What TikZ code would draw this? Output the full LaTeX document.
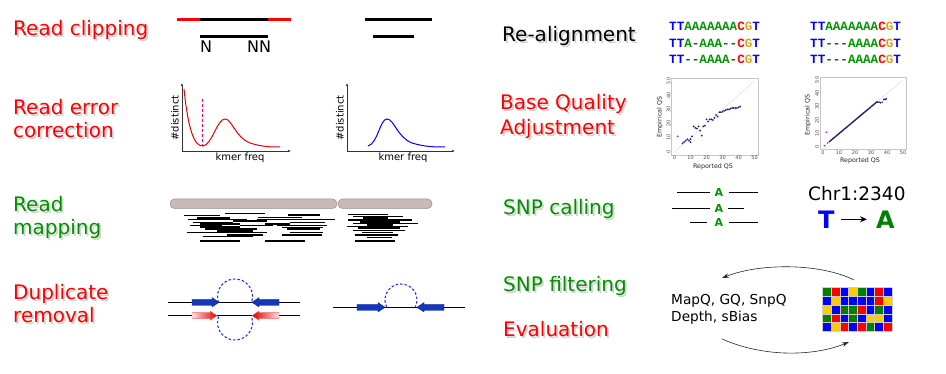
\documentclass[tikz,border=0pt]{standalone}
\usepackage{fontspec}
\setmainfont{DejaVu Sans}
\newfontfamily\monob{Liberation Mono}[BoldFont={Liberation Mono Bold}]
\usetikzlibrary{arrows.meta}
\definecolor{labred}{RGB}{255,0,0}
\definecolor{labgreen}{RGB}{0,145,0}
\definecolor{sb}{RGB}{0,0,255}
\definecolor{sg}{RGB}{0,150,0}
\definecolor{sr}{RGB}{255,0,0}
\definecolor{sy}{RGB}{218,165,32}
\definecolor{sd}{RGB}{40,90,40}
\definecolor{abl}{RGB}{20,55,185}
\definecolor{abld}{RGB}{10,30,140}
\definecolor{loopblue}{RGB}{30,50,235}
\definecolor{pill}{RGB}{200,186,183}
\definecolor{pilld}{RGB}{150,140,138}
\definecolor{dots}{RGB}{25,25,120}
\definecolor{gG}{RGB}{0,128,0}
\definecolor{gR}{RGB}{255,0,0}
\definecolor{gB}{RGB}{0,0,255}
\definecolor{gY}{RGB}{255,204,0}
\tikzset{
  lab/.style={anchor=base west, inner sep=0pt, font=\fontsize{20}{24}\selectfont},
  labsh/.style={lab, text=gray!35},
  seq/.style={anchor=base west, inner sep=0pt, font=\monob\bfseries\fontsize{12.6}{14}\selectfont},
  axl/.style={inner sep=0pt, font=\fontsize{10}{12}\selectfont},
  tick/.style={inner sep=0.6pt, font=\fontsize{5}{6}\selectfont, text=gray!60!black},
  plab/.style={inner sep=0pt, font=\fontsize{6.3}{7}\selectfont, text=gray!30!black},
  barrow/.style={fill=abl, draw=abld, line width=0.4pt},
  rarrowR/.style={left color=red!12, right color=red!85!black, draw=red!60, line width=0.4pt},
  rarrowL/.style={right color=red!12, left color=red!85!black, draw=red!60, line width=0.4pt},
  loopline/.style={draw=loopblue, dashed, dash pattern=on 2.5pt off 2pt, line width=1.1pt},
  kaxis/.style={line width=0.5pt, black!80, -{Latex[length=3pt,width=2.4pt]}},
  cell/.style={draw=gray!40, line width=0.4pt},
}
% label with drop shadow: name, colour, x, y, text
\newcommand{\shlab}[5]{%
  \node[labsh] (#1sh) at (#3+1.8,#4+1.8) {#5};
  \node[lab, text=#2] (#1) at (#3,#4) {#5};}
\begin{document}
\begin{tikzpicture}[x=1pt, y=-1pt]
\useasboundingbox[fill=white] (0,0) rectangle (946,374);

% ---------- left labels ----------
\shlab{l1}{labred}{13}{36}{Read clipping}
\shlab{l2a}{labred}{13}{115}{Read error}
\shlab{l2b}{labred}{13}{138}{correction}
\shlab{l3a}{labgreen}{13}{212}{Read}
\shlab{l3b}{labgreen}{13}{235}{mapping}
\shlab{l4a}{labred}{13}{300}{Duplicate}
\shlab{l4b}{labred}{13}{323}{removal}

% ---------- right labels ----------
\shlab{r1}{black}{502}{42}{Re-alignment}
\shlab{r2a}{labred}{500}{110}{Base Quality}
\shlab{r2b}{labred}{500}{135}{Adjustment}
\shlab{r3}{labgreen}{503}{215}{SNP calling}
\shlab{r4}{labgreen}{503}{292}{SNP filtering}
\shlab{r5}{labred}{503}{337}{Evaluation}

% ---------- read clipping ----------
\draw[line width=3pt, red] (177,20) -- (200,20);
\draw[line width=3pt, black] (200,20) -- (268,20);
\draw[line width=3pt, red] (268,20) -- (291,20);
\draw[line width=3pt, black] (200,37) -- (268,37);
\node[anchor=base west, inner sep=0pt, font=\fontsize{16}{18}\selectfont] (n1) at (200,52.3) {N};
\node[anchor=base west, inner sep=0pt, font=\fontsize{16}{18}\selectfont] (n2) at (247,52.3) {NN};
\draw[line width=3pt, black] (365,20) -- (432,20);
\draw[line width=3pt, black] (373,37) -- (414,37);

% ---------- kmer plots ----------
\coordinate (o1) at (182,151);
\draw[kaxis] (o1) -- (182,83);
\draw[kaxis] (o1) -- (291,151);
\draw[magenta, dashed, dash pattern=on 3pt off 2pt, line width=1pt] (202,99) -- (202,146);
\draw[red!90!black, line width=1pt] (184,89) .. controls (188,128) and (194,147) .. (203,146)
  .. controls (212,145) and (217,119) .. (225,119)
  .. controls (232,119) and (235,137) .. (250,143)
  .. controls (262,147) and (272,147) .. (280,147);
\node[axl, rotate=90] (yl1) at (175,118) {\#distinct};
\node[axl] (xl1) at (240,157.5) {kmer freq};

\coordinate (o2) at (347,151);
\draw[kaxis] (o2) -- (347,83);
\draw[kaxis] (o2) -- (455,151);
\draw[blue, line width=1pt] (368,146) .. controls (378,143) and (380,119) .. (387,119)
  .. controls (394,119) and (397,137) .. (412,143)
  .. controls (425,147) and (435,147) .. (445,147);
\node[axl, rotate=90] (yl2) at (340,118) {\#distinct};
\node[axl] (xl2) at (403,157.5) {kmer freq};

% ---------- read mapping ----------
\draw[pilld, fill=pill, line width=0.5pt, rounded corners=4.5pt] (170,199) rectangle (337,208.5);
\draw[pilld, fill=pill, line width=0.5pt, rounded corners=4.5pt] (338,199) rectangle (432,208.5);
\begin{scope}[shift={(0,185)}, x=0.3333pt, y=-0.3333pt]
\foreach \a/\b/\c/\w in {675/795/85/1.2pt, 865/960/90/1.2pt, 553/660/92/1.2pt, 775/905/97/1.2pt,
  590/690/100/2.2pt, 565/740/103/1.2pt, 770/1005/103/1.2pt, 700/800/108/1.2pt,
  580/700/112/1.2pt, 870/975/112/1.2pt, 600/720/117/2.2pt, 795/870/117/1.4pt,
  570/665/122/1.2pt, 720/820/122/1.2pt, 830/980/122/1.2pt, 600/720/127/2.2pt,
  845/970/127/1.2pt, 615/770/132/1.2pt, 860/960/132/1.2pt, 650/760/137/2.2pt,
  560/800/143/1.2pt, 870/970/143/1.2pt, 680/790/150/2.2pt, 845/965/150/1.2pt,
  610/760/155/1.2pt, 600/720/168/1.2pt, 795/915/168/1.2pt,
  1045/1165/88/1.2pt, 1060/1210/95/1.2pt, 1090/1165/100/2.2pt, 1045/1235/105/1.2pt,
  1080/1200/110/2.2pt, 1060/1255/115/1.2pt, 1100/1180/120/2.4pt, 1040/1225/125/1.2pt,
  1075/1200/130/2.2pt, 1060/1215/137/1.2pt, 1085/1180/143/1.2pt, 1065/1195/150/1.2pt,
  1100/1175/157/1.2pt, 1065/1185/168/1.8pt}
  \draw[line width=\w, black] (\a,\c) -- (\b,\c);
\end{scope}

% ---------- duplicate removal ----------
\draw[line width=0.6pt] (168,302.3) -- (300,302.3);
\draw[line width=0.6pt] (168,315.7) -- (300,315.7);
\draw[loopline] (235,296.5) ++(160:17.5) arc[start angle=160, end angle=380, radius=17.5];
\draw[loopline] (235,322.5) ++(200:17.5) arc[start angle=200, end angle=-20, radius=17.5];
\draw[barrow] (192,299.3) -- (212,299.3) -- (212,297.6) -- (219,302.3) -- (212,307) -- (212,305.3) -- (192,305.3) -- cycle;
\draw[barrow] (279,299.3) -- (259,299.3) -- (259,297.6) -- (252,302.3) -- (259,307) -- (259,305.3) -- (279,305.3) -- cycle;
\draw[rarrowR] (192,312.7) -- (210,312.7) -- (210,311) -- (217,315.7) -- (210,320.4) -- (210,318.7) -- (192,318.7) -- cycle;
\draw[rarrowL] (279,312.7) -- (259,312.7) -- (259,311) -- (252,315.7) -- (259,320.4) -- (259,318.7) -- (279,318.7) -- cycle;

\draw[line width=0.6pt] (333,307.3) -- (465,307.3);
\draw[loopline] (401,300) ++(154:16) arc[start angle=154, end angle=386, radius=16];
\draw[barrow] (357,304.3) -- (378,304.3) -- (378,302.6) -- (385,307.3) -- (378,312) -- (378,310.3) -- (357,310.3) -- cycle;
\draw[barrow] (444,304.3) -- (424,304.3) -- (424,302.6) -- (417,307.3) -- (424,312) -- (424,310.3) -- (444,310.3) -- cycle;

% ---------- re-alignment ----------
\node[seq] (s11) at (669,31) {\color{sb}TT\color{sg}AAAAAAA\color{sr}C\color{sy}G\color{sb}T};
\node[seq] (s12) at (669,47.3) {\color{sb}TT\color{sg}A\color{sd}-\color{sg}AAA\color{sd}--\color{sr}C\color{sy}G\color{sb}T};
\node[seq] (s13) at (669,63.3) {\color{sb}TT\color{sd}--\color{sg}AAAA\color{sd}-\color{sr}C\color{sy}G\color{sb}T};
\node[seq] (s21) at (810,31) {\color{sb}TT\color{sg}AAAAAAA\color{sr}C\color{sy}G\color{sb}T};
\node[seq] (s22) at (810,47.3) {\color{sb}TT\color{sd}---\color{sg}AAAA\color{sr}C\color{sy}G\color{sb}T};
\node[seq] (s23) at (810,63.3) {\color{sb}TT\color{sd}---\color{sg}AAAA\color{sr}C\color{sy}G\color{sb}T};

% ---------- base quality plots ----------
\begin{scope}[shift={(674.5,152)}, x=1.6pt, y=1.42pt]
\draw[gray!45, line width=0.4pt] (-2,-2) rectangle (52,52);
\draw[gray!35, line width=0.3pt] (0,0) -- (50,50);
\foreach \t in {0,10,...,50} {
  \node[tick, anchor=north] at (\t,-2) {\t};
  \node[tick, rotate=90, anchor=south] at (-2,\t) {\t};
}
\foreach \u/\v in {5/6,6/7,7/8,8/9,9/8,10/7,10/9,11/11,12/18,13/17,14/16.5,15/18,16/15,17/11.5,18/18,19/18.5,20/23,21/21.5,22/23,23/23,24/22.5,25/24,26/26,27/25,28/28,29/28,30/28.5,31/29,32/29.5,33/30,34/30,35/30.5,36/31,37/31,38/31,39/31,40/31.5,41/32}
  \fill[dots] (\u,\v) circle[radius=1pt];
\fill[magenta] (2,11) circle[radius=1pt];
\end{scope}
\node[plab, rotate=90] (e1) at (660,117) {Empirical QS};
\node[plab] (p1) at (713,167) {Reported QS};

\begin{scope}[shift={(823,147)}, x=1.6pt, y=1.34pt]
\draw[gray!45, line width=0.4pt] (-2,-2) rectangle (52,52);
\draw[gray!35, line width=0.3pt] (0,0) -- (50,50);
\foreach \t in {0,10,...,50} {
  \node[tick, anchor=north] at (\t,-2) {\t};
  \node[tick, rotate=90, anchor=south] at (-2,\t) {\t};
}
\foreach \u in {4,4.5,...,32.5}
  \fill[dots] (\u,\u) circle[radius=0.9pt];
\foreach \u/\v in {33/33,33.5/33.5,34/33.5,35/33.5,36/33,37/33.5,38/35.5,38.5/35.5,39/35.5,39.5/36}
  \fill[dots] (\u,\v) circle[radius=0.9pt];
\foreach \u/\v in {1/1,2/11,3/3}
  \fill[magenta] (\u,\v) circle[radius=0.9pt];
\end{scope}
\node[plab, rotate=90] (e2) at (808,115) {Empirical QS};
\node[plab] (p2) at (860,161) {Reported QS};

% ---------- SNP calling ----------
\tikzset{snpA/.style={inner sep=0pt, text=sg, font=\bfseries\fontsize{11}{12}\selectfont}}
\node[snpA] (a1) at (719,192.3) {A};
\node[snpA] (a2) at (719,208.3) {A};
\node[snpA] (a3) at (719,222.7) {A};
\draw[line width=0.7pt] (677,192.3) -- (710,192.3) (729,192.3) -- (758,192.3);
\draw[line width=0.7pt] (672,208.3) -- (710,208.3) (728,208.3) -- (744,208.3);
\draw[line width=0.7pt] (690,222.7) -- (707,222.7) (729,222.7) -- (758,222.7);
\node[anchor=base west, inner sep=0pt, font=\fontsize{18.5}{20}\selectfont] (chr) at (808,201) {Chr1:2340};
\node[anchor=base west, inner sep=0pt, text=sb, font=\bfseries\fontsize{24}{26}\selectfont] (bT) at (818,228.3) {T};
\node[anchor=base west, inner sep=0pt, text=gG, font=\bfseries\fontsize{24}{26}\selectfont] (bA) at (876,228.3) {A};
\draw[line width=1pt, -{Stealth[length=7pt,width=6pt]}] (841,219.3) -- (867,219.3);

% ---------- SNP filtering / evaluation ----------
\node[anchor=base west, inner sep=0pt, font=\fontsize{13.7}{16}\selectfont] (f1) at (671,305) {MapQ, GQ, SnpQ};
\node[anchor=base west, inner sep=0pt, font=\fontsize{13.7}{16}\selectfont] (f2) at (671,321.7) {Depth, sBias};
\coordinate (c1) at (854,280);
\coordinate (c2) at (722,278);
\coordinate (c3) at (722,339);
\coordinate (c4) at (849,342);
\draw[line width=0.6pt, gray!30!black, -{Stealth[length=7pt,width=4.5pt]}] (c1) .. controls (820,263) and (760,263) .. (c2);
\draw[line width=0.6pt, gray!30!black, -{Stealth[length=7pt,width=4.5pt]}] (c3) .. controls (765,358) and (815,356) .. (c4);

\begin{scope}[shift={(822.3,287.7)}]
\foreach \r/\row in {0/{gG,gR,gB,gY,gG,gB,gR,gB},
                     1/{gB,gY,gB,gB,gB,gB,gR,gY},
                     2/{gY,gB,gG,gG,gR,gB,gG,gB},
                     3/{gG,gR,gB,gG,gB,gY,gY,gB},
                     4/{gB,gY,gR,gB,gR,gG,gB,gR}}
  \foreach \col [count=\c from 0] in \row
    \fill[\col] (\c*8.7,\r*8.7) rectangle ++(8.7,8.7);
\foreach \i in {0,...,8} \draw[cell] (\i*8.7,0) -- (\i*8.7,43.5);
\foreach \j in {0,...,5} \draw[cell] (0,\j*8.7) -- (69.6,\j*8.7);
\end{scope}
\end{tikzpicture}
\end{document}
